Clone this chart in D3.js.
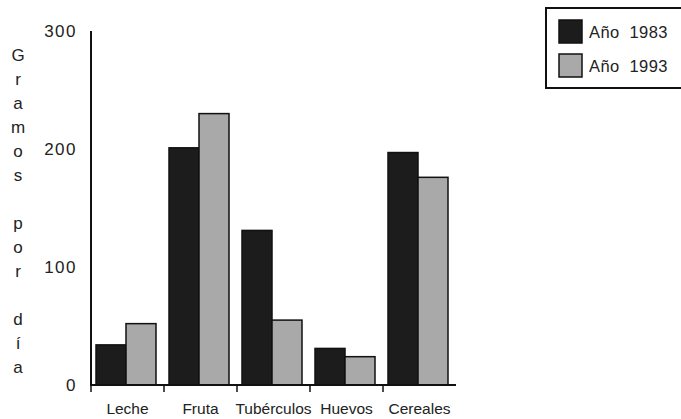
<!DOCTYPE html>
<html>
<head>
<meta charset="utf-8">
<script src="https://d3js.org/d3.v7.min.js"></script>
<style>
  body { margin: 0; background: #fff; font-family: "Liberation Sans", Arial, sans-serif; }
  svg text { fill: #222; }
</style>
</head>
<body>
<div id="chart"></div>
<script>
const categories = ["Leche", "Fruta", "Tubérculos", "Huevos", "Cereales"];
const years = ["Año 1983", "Año 1993"];
const values1983 = [34, 201, 131, 31, 197];
const values1993 = [52, 230, 55, 24, 176];
const yTicks = [0, 100, 200, 300];
const yTitle = "Gramos por día";

const width = 681, height = 419;
const svg = d3.select("#chart").append("svg")
  .attr("width", width).attr("height", height);

const x = d3.scaleBand().domain(categories).range([91, 456]);
const y = d3.scaleLinear().domain([0, 300]).range([385, 31]);
const colors = ["#1c1c1c", "#a9a9a9"];

// bars
const barW = 30, offset = 5;
const series = [values1983, values1993];
series.forEach((vals, s) => {
  svg.selectAll(".bar" + s)
    .data(categories)
    .enter().append("rect")
    .attr("x", (d, i) => x(d) + offset + s * barW)
    .attr("y", (d, i) => y(vals[i]))
    .attr("width", barW)
    .attr("height", (d, i) => y(0) - y(vals[i]))
    .attr("fill", colors[s])
    .attr("stroke", "#111")
    .attr("stroke-width", 1.5);
});

// y axis
svg.append("line")
  .attr("x1", 91).attr("x2", 91)
  .attr("y1", y(300)).attr("y2", y(0))
  .attr("stroke", "#111").attr("stroke-width", 2);
svg.selectAll(".ytick")
  .data(yTicks).enter().append("text")
  .attr("x", 77).attr("y", d => y(d) + 6)
  .attr("text-anchor", "end")
  .attr("font-size", 17)
  .attr("letter-spacing", 1.5)
  .text(d => d);

// x axis
svg.append("line")
  .attr("x1", 90).attr("x2", 456)
  .attr("y1", y(0)).attr("y2", y(0))
  .attr("stroke", "#111").attr("stroke-width", 2);
svg.selectAll(".xtick")
  .data(categories).enter().append("line")
  .attr("x1", d => x(d)).attr("x2", d => x(d))
  .attr("y1", y(0)).attr("y2", y(0) + 7)
  .attr("stroke", "#111").attr("stroke-width", 1.5);
svg.selectAll(".xlabel")
  .data(categories).enter().append("text")
  .attr("x", d => x(d) + x.bandwidth() / 2)
  .attr("y", 414)
  .attr("text-anchor", "middle")
  .attr("font-size", 15.5)
  .text(d => d);

// vertical title, one letter per line
svg.selectAll(".ytitle")
  .data(Array.from(yTitle))
  .enter().append("text")
  .attr("x", 18)
  .attr("y", (d, i) => 61 + i * 24)
  .attr("text-anchor", "middle")
  .attr("font-size", 17)
  .text(d => d);

// legend
svg.append("rect")
  .attr("x", 546).attr("y", 8)
  .attr("width", 140).attr("height", 80)
  .attr("fill", "#fff").attr("stroke", "#111").attr("stroke-width", 2);
years.forEach((t, i) => {
  svg.append("rect")
    .attr("x", 559).attr("y", 20 + i * 34)
    .attr("width", 23).attr("height", 23)
    .attr("fill", colors[i]).attr("stroke", "#111").attr("stroke-width", 1.5);
  svg.append("text")
    .attr("x", 589).attr("y", 38 + i * 34)
    .attr("font-size", 16.5)
    .attr("letter-spacing", 0.4)
    .text(t.replace(" ", "\u00a0\u00a0"));
});
</script>
</body>
</html>
